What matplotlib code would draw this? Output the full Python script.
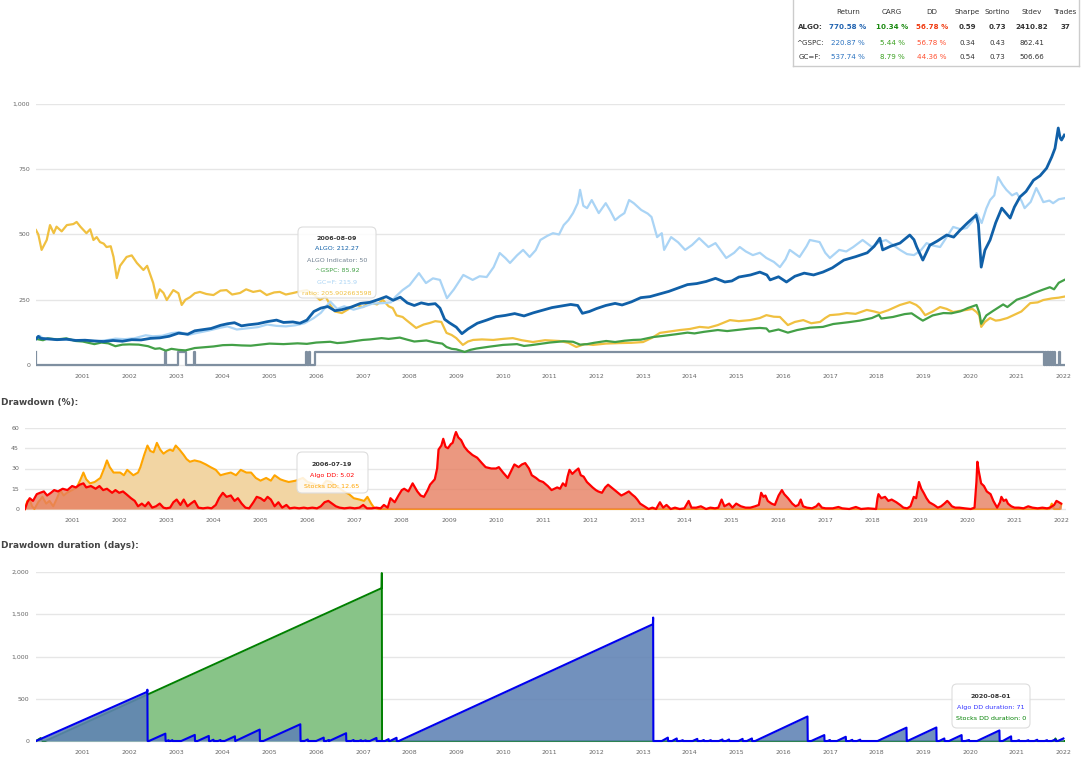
import matplotlib
matplotlib.use('Agg')
import matplotlib.pyplot as plt
from matplotlib.patches import FancyBboxPatch
from matplotlib.transforms import IdentityTransform
from matplotlib.lines import Line2D
from matplotlib.ticker import FuncFormatter

plt.rcParams['font.family'] = ['DejaVu Sans']

# ---------------- data ----------------
YEARS = list(range(2001, 2023))

ALGO = [(2000.00,100),(2000.05,110),(2000.10,102),(2000.25,100),(2000.45,97),(2000.65,99),(2000.85,94),
 (2001.05,95),(2001.25,92),(2001.45,90),(2001.65,94),(2001.85,91),(2002.05,97),(2002.25,96),(2002.45,102),
 (2002.65,104),(2002.85,110),(2003.05,122),(2003.25,118),(2003.40,131),(2003.55,135),(2003.75,140),
 (2003.95,152),(2004.10,158),(2004.25,162),(2004.40,150),(2004.55,154),(2004.75,158),(2004.95,166),
 (2005.15,172),(2005.30,163),(2005.50,165),(2005.65,160),(2005.80,172),(2005.95,205),(2006.10,218),
 (2006.25,224),(2006.40,208),(2006.55,212),(2006.75,222),(2006.95,236),(2007.15,240),(2007.35,252),
 (2007.50,262),(2007.65,248),(2007.80,260),(2007.95,238),(2008.10,228),(2008.25,238),(2008.40,232),
 (2008.55,235),(2008.65,218),(2008.75,175),(2008.85,162),(2009.00,145),(2009.12,120),(2009.25,138),
 (2009.45,160),(2009.65,172),(2009.85,185),(2010.05,190),(2010.25,197),(2010.45,188),(2010.65,200),
 (2010.85,210),(2011.05,220),(2011.25,226),(2011.45,232),(2011.60,228),(2011.70,198),(2011.85,205),
 (2012.00,216),(2012.20,228),(2012.40,236),(2012.55,230),(2012.75,242),(2012.95,258),(2013.15,262),
 (2013.35,272),(2013.55,282),(2013.75,295),(2013.95,308),(2014.15,312),(2014.35,320),(2014.55,332),
 (2014.75,318),(2014.90,322),(2015.05,337),(2015.30,345),(2015.50,356),(2015.65,345),(2015.72,326),
 (2015.90,338),(2016.07,318),(2016.25,340),(2016.45,352),(2016.65,345),(2016.85,356),(2017.05,372),
 (2017.30,402),(2017.55,415),(2017.80,430),(2017.95,455),(2018.07,486),(2018.13,441),(2018.30,455),
 (2018.50,467),(2018.71,498),(2018.80,480),(2018.86,452),(2018.99,402),(2019.14,459),(2019.30,475),
 (2019.50,498),(2019.65,490),(2019.79,517),(2019.95,545),(2020.13,574),(2020.18,540),(2020.24,375),
 (2020.32,440),(2020.43,479),(2020.55,545),(2020.68,601),(2020.78,580),(2020.86,563),(2020.95,605),
 (2021.07,644),(2021.20,665),(2021.36,708),(2021.50,725),(2021.64,754),(2021.75,797),(2021.82,830),
 (2021.89,908),(2021.93,870),(2021.96,862),(2022.02,881)]

GOLD = [(2000.00,100),(2000.08,112),(2000.15,102),(2000.35,100),(2000.55,98),(2000.75,96),(2000.95,95),
 (2001.15,93),(2001.35,92),(2001.55,96),(2001.70,101),(2001.90,99),(2002.10,102),(2002.35,114),(2002.50,110),
 (2002.70,112),(2002.90,122),(2003.08,126),(2003.25,115),(2003.45,123),(2003.70,132),(2003.95,143),
 (2004.10,148),(2004.30,136),(2004.50,140),(2004.75,145),(2004.95,155),(2005.15,150),(2005.35,148),
 (2005.55,152),(2005.75,160),(2005.95,180),(2006.10,200),(2006.30,243),(2006.45,215),(2006.60,225),
 (2006.80,212),(2007.00,222),(2007.20,235),(2007.43,237),(2007.60,240),(2007.70,262),(2007.85,287),
 (2008.00,306),(2008.20,352),(2008.35,314),(2008.50,332),(2008.65,326),(2008.80,256),(2008.95,290),
 (2009.15,345),(2009.35,326),(2009.50,340),(2009.65,337),(2009.80,375),(2009.93,429),(2010.05,410),
 (2010.15,391),(2010.30,420),(2010.43,441),(2010.57,414),(2010.70,440),(2010.80,479),(2010.95,495),
 (2011.07,505),(2011.20,500),(2011.30,536),(2011.40,555),(2011.50,582),(2011.60,620),(2011.65,671),
 (2011.72,610),(2011.80,601),(2011.90,632),(2012.05,582),(2012.20,620),(2012.30,590),(2012.40,555),
 (2012.50,570),(2012.60,582),(2012.70,632),(2012.80,620),(2012.96,594),(2013.10,580),(2013.18,567),
 (2013.30,490),(2013.40,505),(2013.45,441),(2013.60,490),(2013.75,470),(2013.90,441),(2014.05,460),
 (2014.20,486),(2014.40,452),(2014.55,467),(2014.78,410),(2014.95,430),(2015.07,452),(2015.20,435),
 (2015.35,421),(2015.50,430),(2015.64,410),(2015.80,395),(2015.93,375),(2016.05,405),(2016.14,441),
 (2016.35,414),(2016.50,455),(2016.57,479),(2016.78,471),(2016.90,430),(2017.00,410),(2017.20,441),
 (2017.35,435),(2017.50,452),(2017.70,479),(2017.90,452),(2018.05,470),(2018.20,479),(2018.35,460),
 (2018.50,441),(2018.65,425),(2018.80,421),(2018.95,440),(2019.07,467),(2019.20,458),(2019.36,452),
 (2019.50,490),(2019.64,529),(2019.80,520),(2019.93,525),(2020.05,550),(2020.14,582),(2020.25,544),
 (2020.35,600),(2020.43,632),(2020.52,650),(2020.60,720),(2020.70,690),(2020.78,671),(2020.90,650),
 (2021.00,659),(2021.10,630),(2021.17,601),(2021.30,625),(2021.42,678),(2021.50,650),(2021.57,624),
 (2021.70,630),(2021.78,620),(2021.90,635),(2022.02,639)]

GSPC = [(2000.00,100),(2000.15,95),(2000.25,102),(2000.45,98),(2000.65,102),(2000.85,92),(2001.00,90),
 (2001.15,84),(2001.25,80),(2001.40,86),(2001.55,83),(2001.70,72),(2001.85,78),(2002.00,79),(2002.20,78),
 (2002.40,72),(2002.55,62),(2002.65,64),(2002.78,55),(2002.90,62),(2003.05,58),(2003.20,56),(2003.40,65),
 (2003.60,68),(2003.80,71),(2004.00,76),(2004.20,77),(2004.40,75),(2004.60,74),(2004.80,78),(2005.00,82),
 (2005.30,80),(2005.60,83),(2005.80,81),(2006.00,86),(2006.30,89),(2006.45,84),(2006.60,86),(2006.80,91),
 (2007.00,96),(2007.15,98),(2007.40,103),(2007.55,100),(2007.79,105),(2007.95,97),(2008.10,90),
 (2008.36,94),(2008.55,86),(2008.70,82),(2008.79,69),(2008.90,62),(2009.00,60),(2009.18,50),(2009.30,58),
 (2009.43,63),(2009.70,70),(2010.00,77),(2010.30,80),(2010.45,73),(2010.60,76),(2010.80,81),(2011.00,86),
 (2011.30,91),(2011.50,89),(2011.65,78),(2011.80,80),(2011.95,85),(2012.21,92),(2012.40,88),(2012.60,93),
 (2012.79,96),(2012.95,97),(2013.21,107),(2013.45,112),(2013.71,118),(2013.95,124),(2014.10,121),
 (2014.30,127),(2014.60,134),(2014.80,130),(2015.00,134),(2015.30,140),(2015.50,142),(2015.64,140),
 (2015.70,128),(2015.90,136),(2016.10,124),(2016.30,134),(2016.57,143),(2016.85,146),(2017.07,157),
 (2017.40,164),(2017.64,170),(2017.90,180),(2018.05,192),(2018.10,178),(2018.35,184),(2018.60,195),
 (2018.75,198),(2018.90,180),(2018.99,170),(2019.20,190),(2019.43,199),(2019.60,198),(2019.80,206),
 (2019.95,218),(2020.14,230),(2020.20,200),(2020.24,158),(2020.35,190),(2020.50,208),(2020.71,232),
 (2020.80,222),(2021.00,250),(2021.20,262),(2021.36,275),(2021.55,288),(2021.71,298),(2021.80,290),
 (2021.90,315),(2022.02,326)]

RATIO = [(2000.00,517),(2000.05,500),(2000.12,441),(2000.23,479),(2000.30,536),(2000.38,505),(2000.44,530),
 (2000.55,512),(2000.66,536),(2000.80,540),(2000.87,548),(2000.95,530),(2001.08,505),(2001.16,520),
 (2001.23,479),(2001.30,490),(2001.37,471),(2001.45,465),(2001.51,452),(2001.60,455),(2001.66,414),
 (2001.73,333),(2001.80,380),(2001.94,414),(2002.05,420),(2002.16,391),(2002.30,364),(2002.38,380),
 (2002.51,314),(2002.58,256),(2002.65,290),(2002.73,276),(2002.80,249),(2002.94,287),(2003.05,275),
 (2003.12,230),(2003.20,250),(2003.30,260),(2003.40,275),(2003.51,280),(2003.65,272),(2003.80,268),
 (2003.95,285),(2004.08,287),(2004.20,270),(2004.37,276),(2004.50,290),(2004.65,280),(2004.80,285),
 (2004.94,268),(2005.10,278),(2005.22,280),(2005.35,270),(2005.51,276),(2005.65,282),(2005.80,287),
 (2005.95,270),(2006.08,249),(2006.20,262),(2006.30,230),(2006.40,205),(2006.55,199),(2006.70,215),
 (2006.87,230),(2007.00,222),(2007.15,241),(2007.30,232),(2007.43,249),(2007.55,225),(2007.64,218),
 (2007.72,190),(2007.85,184),(2007.93,172),(2008.05,155),(2008.14,142),(2008.30,155),(2008.43,161),
 (2008.55,168),(2008.68,165),(2008.79,123),(2008.90,115),(2009.00,103),(2009.14,77),(2009.25,90),
 (2009.36,96),(2009.55,98),(2009.79,96),(2010.00,100),(2010.21,103),(2010.40,95),(2010.64,88),
 (2010.90,95),(2011.21,92),(2011.40,85),(2011.57,69),(2011.75,80),(2011.93,77),(2012.20,82),(2012.50,84),
 (2012.75,85),(2013.00,88),(2013.20,105),(2013.36,123),(2013.55,128),(2013.79,134),(2014.00,138),
 (2014.21,146),(2014.40,143),(2014.60,153),(2014.86,172),(2015.05,168),(2015.29,172),(2015.50,180),
 (2015.64,191),(2015.80,185),(2015.93,184),(2016.10,153),(2016.25,165),(2016.43,172),(2016.60,160),
 (2016.79,165),(2016.90,180),(2017.00,191),(2017.20,194),(2017.36,199),(2017.55,196),(2017.79,211),
 (2017.95,205),(2018.07,199),(2018.25,210),(2018.40,222),(2018.50,230),(2018.71,241),(2018.85,230),
 (2018.93,218),(2019.04,191),(2019.20,205),(2019.36,222),(2019.50,215),(2019.64,203),(2019.80,208),
 (2019.93,211),(2020.05,215),(2020.14,203),(2020.20,190),(2020.24,146),(2020.32,165),(2020.43,180),
 (2020.55,170),(2020.64,172),(2020.80,180),(2020.93,191),(2021.10,205),(2021.29,237),(2021.45,240),
 (2021.57,249),(2021.75,255),(2021.90,258),(2022.02,262)]

INDICATOR = [(2000.00,50),(2000.01,0),(2002.76,50),(2002.79,0),(2003.05,50),(2003.21,0),(2003.38,50),
 (2003.40,0),(2005.78,50),(2005.80,0),(2005.84,50),(2005.86,0),(2005.97,50),(2021.58,0),(2021.60,50),
 (2021.62,0),(2021.64,50),(2021.66,0),(2021.68,50),(2021.70,0),(2021.72,50),(2021.74,0),(2021.76,50),
 (2021.78,0),(2021.80,50),(2021.82,0),(2021.91,50),(2021.92,0),(2022.02,0)]

STOCKS_DD = [(2000.00,0),(2000.05,6),(2000.10,7),(2000.15,2),(2000.20,0),(2000.28,5),(2000.37,9),(2000.45,4),
 (2000.52,6),(2000.60,2),(2000.68,8),(2000.75,14),(2000.82,10),(2000.89,12),(2001.00,14),(2001.10,16),
 (2001.18,22),(2001.24,27),(2001.30,22),(2001.38,19),(2001.48,20),(2001.60,23),(2001.68,30),(2001.74,36),
 (2001.80,31),(2001.88,27),(2002.02,27),(2002.10,25),(2002.17,29),(2002.30,25),(2002.40,27),(2002.45,31),
 (2002.53,40),(2002.60,47),(2002.66,43),(2002.73,42),(2002.80,49),(2002.87,44),(2002.94,41),(2003.02,43),
 (2003.08,44),(2003.14,43),(2003.20,47),(2003.28,44),(2003.37,40),(2003.43,37),(2003.50,35),(2003.60,36),
 (2003.72,35),(2003.84,33),(2003.94,31),(2004.05,29),(2004.15,25),(2004.25,26),(2004.37,27),(2004.48,25),
 (2004.58,29),(2004.70,27),(2004.80,27),(2004.90,23),(2005.00,21),(2005.12,23),(2005.22,21),(2005.30,25),
 (2005.42,22),(2005.50,21),(2005.60,20),(2005.75,21),(2005.90,23),(2006.00,20),(2006.10,19),(2006.18,18),
 (2006.30,17),(2006.40,21),(2006.50,20),(2006.60,17),(2006.70,15),(2006.77,13),(2006.88,11),(2006.98,8),
 (2007.10,7),(2007.20,6),(2007.27,9),(2007.35,4),(2007.41,1),(2007.50,0),(2021.75,0),(2021.80,4),
 (2021.85,0),(2021.97,0),(2022.00,3)]

ALGO_DD = [(2000.00,0),(2000.05,5),(2000.10,8),(2000.17,6),(2000.25,11),(2000.32,12),(2000.40,13),(2000.47,10),
 (2000.55,12),(2000.62,14),(2000.70,13),(2000.80,15),(2000.90,14),(2001.00,17),(2001.08,16),(2001.16,18),
 (2001.24,19),(2001.30,16),(2001.40,17),(2001.50,15),(2001.58,17),(2001.66,14),(2001.74,15),(2001.85,12),
 (2001.92,14),(2002.00,12),(2002.08,13),(2002.15,11),(2002.25,8),(2002.33,6),(2002.40,2),(2002.48,4),
 (2002.55,2),(2002.62,5),(2002.70,1),(2002.78,2),(2002.86,4),(2002.94,1),(2003.00,0.5),(2003.08,1),
 (2003.15,5),(2003.22,7),(2003.30,3),(2003.37,7),(2003.45,2),(2003.52,4),(2003.60,6),(2003.68,1),
 (2003.78,0.5),(2003.88,1),(2003.96,0.5),(2004.05,3),(2004.12,8),(2004.20,12),(2004.28,9),(2004.37,10),
 (2004.45,6),(2004.52,8),(2004.60,4),(2004.68,1),(2004.76,0.5),(2004.85,5),(2004.92,9),(2005.00,8),
 (2005.08,6),(2005.15,9),(2005.22,7),(2005.30,2),(2005.38,5),(2005.46,1),(2005.55,3),(2005.62,0.5),
 (2005.72,1),(2005.82,0.5),(2005.92,1),(2006.00,0.5),(2006.10,1),(2006.20,0.5),(2006.28,2),(2006.36,5),
 (2006.44,6),(2006.52,4),(2006.60,2),(2006.68,1),(2006.78,0.5),(2006.90,1),(2007.00,0.5),(2007.10,1),
 (2007.18,3),(2007.26,0.5),(2007.36,0.5),(2007.46,1),(2007.55,0.5),(2007.62,3),(2007.70,1),(2007.76,8),
 (2007.85,5),(2007.93,10),(2008.00,14),(2008.05,15),(2008.14,13),(2008.23,19),(2008.33,13),(2008.40,10),
 (2008.47,9),(2008.55,14),(2008.60,18),(2008.70,22),(2008.75,30),(2008.78,44),(2008.84,47),(2008.88,52),
 (2008.93,46),(2008.98,45),(2009.04,48),(2009.08,49),(2009.12,54),(2009.15,57),(2009.20,53),(2009.26,51),
 (2009.33,46),(2009.40,43),(2009.50,40),(2009.60,38),(2009.70,34),(2009.78,31),(2009.90,30),(2010.00,30),
 (2010.06,31),(2010.15,27),(2010.25,23),(2010.32,28),(2010.39,33),(2010.48,31),(2010.55,33),(2010.62,34),
 (2010.70,30),(2010.76,25),(2010.85,23),(2010.92,21),(2011.00,20),(2011.10,17),(2011.18,14),(2011.30,16),
 (2011.36,15),(2011.42,19),(2011.48,17),(2011.52,24),(2011.56,29),(2011.62,26),(2011.68,28),(2011.75,30),
 (2011.80,25),(2011.86,24),(2011.93,20),(2012.05,16),(2012.12,14),(2012.17,13),(2012.25,12),(2012.32,16),
 (2012.38,18),(2012.45,16),(2012.52,14),(2012.59,12),(2012.66,10),(2012.72,11),(2012.82,13),(2012.88,11),
 (2012.95,9),(2013.00,7),(2013.06,4),(2013.15,2),(2013.24,0),(2013.32,1),(2013.40,0),(2013.48,5),
 (2013.55,1),(2013.62,3),(2013.71,0),(2013.80,1),(2013.90,0),(2014.00,0.5),(2014.09,6),(2014.15,1),
 (2014.25,1),(2014.35,2),(2014.46,0),(2014.55,1),(2014.65,0.5),(2014.72,1),(2014.79,7),(2014.85,2),
 (2014.95,4),(2015.02,1),(2015.10,4),(2015.20,2),(2015.30,1),(2015.40,1),(2015.50,2),(2015.58,3),
 (2015.63,12),(2015.68,9),(2015.72,10),(2015.77,6),(2015.85,4),(2015.92,3),(2016.00,10),(2016.07,14),
 (2016.12,11),(2016.20,8),(2016.29,4),(2016.36,2),(2016.42,3),(2016.47,7),(2016.52,2),(2016.60,1),
 (2016.71,0.5),(2016.80,2),(2016.85,4),(2016.92,1),(2017.00,0.5),(2017.15,0.5),(2017.27,1.5),(2017.35,0.5),
 (2017.50,0),(2017.64,1.5),(2017.75,0),(2017.90,0.5),(2018.07,0),(2018.10,8),(2018.12,11),(2018.18,8),
 (2018.26,9),(2018.33,6),(2018.40,7),(2018.50,5),(2018.58,3),(2018.65,1),(2018.73,0.5),(2018.80,2),
 (2018.87,9),(2018.92,8),(2018.95,14),(2018.98,20),(2019.03,15),(2019.08,12),(2019.14,8),(2019.20,5),
 (2019.30,3),(2019.38,1),(2019.45,2),(2019.52,4),(2019.58,6),(2019.61,5),(2019.68,2),(2019.75,1),
 (2019.84,1),(2019.95,0.5),(2020.08,0),(2020.16,1),(2020.20,20),(2020.22,35),(2020.25,28),(2020.30,19),
 (2020.36,17),(2020.42,13),(2020.50,11),(2020.56,6),(2020.64,1),(2020.70,5),(2020.73,9),(2020.78,6),
 (2020.83,7),(2020.87,4),(2020.94,2),(2021.01,1),(2021.10,1),(2021.20,0.5),(2021.30,2),(2021.39,1),
 (2021.50,0.5),(2021.60,1),(2021.70,0.5),(2021.76,1),(2021.85,3),(2021.90,6),(2021.95,5),(2022.00,4)]

STOCKS_DUR = [(2000.00,0),(2000.10,35),(2000.14,0),(2000.20,0),(2007.40,1809),(2007.405,1988),(2007.41,0),
 (2021.80,0),(2021.83,30),(2021.86,0),(2022.02,0)]

ALGO_DUR = [(2000.00,0),(2002.38,582),(2002.385,607),(2002.39,0),(2002.42,0),(2002.77,87),(2002.775,0),
 (2002.80,0),(2002.84,10),(2002.845,0),(2002.88,0),(2002.92,10),(2002.925,0),(2003.11,0),(2003.40,72),
 (2003.405,0),(2003.46,0),(2003.70,60),(2003.705,0),(2003.74,0),(2003.80,15),(2003.805,0),(2003.90,0),
 (2003.95,12),(2003.955,0),(2004.04,0),(2004.26,56),(2004.265,0),(2004.27,0),(2004.79,135),(2004.795,0),
 (2004.87,0),(2005.66,198),(2005.665,0),(2005.75,0),(2005.82,18),(2005.825,0),(2006.00,0),(2006.16,40),
 (2006.165,0),(2006.22,0),(2006.27,12),(2006.275,0),(2006.28,0),(2006.64,92),(2006.645,0),(2006.75,0),
 (2006.80,12),(2006.805,0),(2006.92,0),(2006.96,10),(2006.965,0),(2007.02,0),(2007.06,8),(2007.065,0),
 (2007.15,0),(2007.29,36),(2007.295,0),(2007.47,0),(2007.55,22),(2007.555,0),(2007.58,0),(2007.72,38),
 (2007.725,0),(2007.77,0),(2013.21,1382),(2013.215,1461),(2013.22,0),(2013.40,0),(2013.53,40),(2013.535,0),
 (2013.62,0),(2013.72,30),(2013.725,0),(2013.80,0),(2013.85,10),(2013.855,0),(2014.06,0),(2014.16,25),
 (2014.165,0),(2014.25,0),(2014.30,12),(2014.305,0),(2014.40,0),(2014.45,10),(2014.455,0),(2014.62,0),
 (2014.70,18),(2014.705,0),(2014.78,0),(2014.84,18),(2014.845,0),(2015.04,0),(2015.13,25),(2015.135,0),
 (2015.22,0),(2015.33,30),(2015.335,0),(2015.40,0),(2016.52,290),(2016.525,0),(2016.60,0),(2016.88,70),
 (2016.885,0),(2016.95,0),(2017.00,12),(2017.005,0),(2017.15,0),(2017.34,50),(2017.345,0),(2017.42,0),
 (2017.48,14),(2017.485,0),(2017.58,0),(2017.65,16),(2017.655,0),(2018.02,0),(2018.64,158),(2018.645,0),
 (2018.66,0),(2019.28,160),(2019.285,0),(2019.34,0),(2019.45,30),(2019.455,0),(2019.55,0),(2019.82,70),
 (2019.825,0),(2019.90,0),(2019.98,12),(2019.985,0),(2020.15,0),(2020.63,125),(2020.635,0),(2020.70,0),
 (2020.88,55),(2020.885,0),(2021.00,0),(2021.05,10),(2021.055,0),(2021.20,0),(2021.25,10),(2021.255,0),
 (2021.38,0),(2021.44,15),(2021.445,0),(2021.60,0),(2021.65,10),(2021.655,0),(2021.75,0),(2021.83,18),
 (2021.835,0),(2021.88,0),(2022.00,30)]

# summary table
TABLE_HEADERS = ['Return', 'CARG', 'DD', 'Sharpe', 'Sortino', 'Stdev', 'Trades']
TABLE_ROWS = ['ALGO:', '^GSPC:', 'GC=F:']
RET_COL = ['770.58 %', '220.87 %', '537.74 %']
CARG_COL = ['10.34 %', '5.44 %', '8.79 %']
DD_COL = ['56.78 %', '56.78 %', '44.36 %']
SHARPE_COL = ['0.59', '0.34', '0.54']
SORTINO_COL = ['0.73', '0.43', '0.73']
STDEV_COL = ['2410.82', '862.41', '506.66']
TRADES_COL = ['37', '', '']

# ---------------- figure ----------------
W, H = 1091, 769
fig = plt.figure(figsize=(W / 100, H / 100), dpi=100)
fig.patch.set_facecolor('white')


def rect(l, t, r, b):
    return [l / W, 1 - b / H, (r - l) / W, (b - t) / H]


def unzip(pts):
    return [p[0] for p in pts], [p[1] for p in pts]


def style(ax, yticks, fmt, xpad, ypad):
    for s in ax.spines.values():
        s.set_visible(False)
    ax.set_xticks(YEARS)
    ax.set_xticklabels([str(y) for y in YEARS])
    ax.set_yticks(yticks)
    ax.yaxis.set_major_formatter(FuncFormatter(fmt))
    ax.tick_params(axis='both', length=0, labelsize=4.5, labelcolor='#666666')
    ax.tick_params(axis='x', pad=xpad)
    ax.tick_params(axis='y', pad=ypad)
    ax.yaxis.grid(True, color='#e6e6e6', lw=1.0)
    ax.xaxis.grid(False)
    ax.set_axisbelow(True)
    ax.patch.set_alpha(0)


comma = lambda v, p: f'{int(v):,}'

# ---- top chart ----
ax1 = fig.add_axes(rect(36, 104, 1065, 367))
ax1.set_xlim(2000, 2000 + (1065 - 36) / 46.7)
ax1.set_ylim(-(367 - 365) / 0.261, 1000)
style(ax1, [0, 250, 500, 750, 1000], comma, 4.7, 4.3)

t, v = unzip(INDICATOR)
ax1.plot(t, v, drawstyle='steps-post', color='#7f8fa0', lw=1.6, zorder=2)
t, v = unzip(RATIO)
ax1.plot(t, v, color='#f0c040', lw=1.6, zorder=3)
t, v = unzip(GOLD)
ax1.plot(t, v, color='#aad4f5', lw=1.6, zorder=3)
t, v = unzip(GSPC)
ax1.plot(t, v, color='#43a047', lw=1.6, zorder=4)
t, v = unzip(ALGO)
ax1.plot(t, v, color='#1060a8', lw=2.0, zorder=5)

# ---- drawdown chart ----
ax2 = fig.add_axes(rect(25, 428, 1066, 511))
ax2.set_xlim(2000, 2000 + (1066 - 25) / 47.1)
ax2.set_ylim(-(511 - 509) / 1.35, 60)
style(ax2, [0, 15, 30, 45, 60], lambda v, p: f'{int(v)}', 5.0, 4.3)

ts, vs = unzip(STOCKS_DD)
ta, va = unzip(ALGO_DD)
ax2.fill_between(ts, vs, 0, color='#f2d5a3', lw=0, zorder=2)
ax2.plot(ts, vs, color='#ffa500', lw=1.5, zorder=3)
ax2.fill_between(ta, va, 0, color='#e67e60', alpha=0.8, lw=0, zorder=4)
ax2.plot(ta, va, color='#ff0000', lw=1.6, zorder=5)

# ---- duration chart ----
ax3 = fig.add_axes(rect(36, 572, 1065, 743))
ax3.set_xlim(2000, 2000 + (1065 - 36) / 46.7)
ax3.set_ylim(-(743 - 741) / 0.0845, 2000)
style(ax3, [0, 500, 1000, 1500, 2000], comma, 4.7, 5.0)

ts, vs = unzip(STOCKS_DUR)
ta, va = unzip(ALGO_DUR)
ax3.fill_between(ts, vs, 0, color='#88c488', lw=0, zorder=2)
ax3.plot(ts, vs, color='#008000', lw=1.4, zorder=3)
ax3.fill_between(ta, va, 0, color='#5f82b4', alpha=0.88, lw=0, zorder=4)
ax3.plot(ta, va, color='#0000ee', lw=1.5, zorder=5)

# ---- section titles ----
fig.text(1 / W, 1 - 402 / H, 'Drawdown (%):', fontsize=6.4, fontweight='bold',
         color='#444444', va='center', ha='left')
fig.text(1 / W, 1 - 546 / H, 'Drawdown duration (days):', fontsize=6.4, fontweight='bold',
         color='#444444', va='center', ha='left')

# ---- tooltips ----
def tooltip(l, t, r, b, cx, lines):
    p = FancyBboxPatch((l, H - b), r - l, b - t,
                       boxstyle='round,pad=0,rounding_size=5',
                       transform=IdentityTransform(), fc=(1, 1, 1, 0.85),
                       ec='#dddddd', lw=0.8, zorder=20)
    fig.add_artist(p)
    for y, s, c, bold in lines:
        fig.text(cx / W, 1 - y / H, s, color=c, fontsize=4.6,
                 fontweight='bold' if bold else 'normal',
                 ha='center', va='center', zorder=21)


tooltip(298, 227, 376, 298, 337, [
    (239, '2006-08-09', '#333333', True),
    (249, 'ALGO: 212.27', '#1060a8', False),
    (260, 'ALGO Indicator: 50', '#708090', False),
    (271, '^GSPC: 85.92', '#43a047', False),
    (282, 'GC=F: 215.9', '#aad4f5', False),
    (293, 'ratio: 205.902663598', '#f0c040', False),
])
tooltip(297, 452, 368, 493, 332, [
    (464, '2006-07-19', '#333333', True),
    (475, 'Algo DD: 5.02', '#ff0000', False),
    (486, 'Stocks DD: 12.65', '#ffa500', False),
])
tooltip(952, 684, 1030, 728, 991, [
    (696, '2020-08-01', '#333333', True),
    (707, 'Algo DD duration: 71', '#3333ff', False),
    (718, 'Stocks DD duration: 0', '#008000', False),
])

# ---- summary table ----
for xs, ys in [([793, 793], [0, 66]), ([793, 1079], [66, 66]), ([1079, 1079], [0, 66])]:
    fig.add_artist(Line2D(xs, [H - y for y in ys], transform=IdentityTransform(),
                          color='#cccccc', lw=1.0))

col_x = [848, 892, 932, 967, 997, 1032, 1066]
row_y = [27, 43, 57]
for x, h in zip(col_x, TABLE_HEADERS):
    fig.text(x / W, 1 - 12 / H, h, fontsize=5.1, color='#333333', ha='center', va='center')

cols = [RET_COL, CARG_COL, DD_COL, SHARPE_COL, SORTINO_COL, STDEV_COL, TRADES_COL]
col_colors = [('#1f62b0', '#2a72c0'), ('#1a8a10', '#3aa020'), ('#f03a10', '#ff5030'),
              ('#333333', '#333333'), ('#333333', '#333333'), ('#333333', '#333333'),
              ('#333333', '#333333')]
for i, (name, y) in enumerate(zip(TABLE_ROWS, row_y)):
    bold = (i == 0)
    fig.text(810 / W, 1 - y / H, name, fontsize=5.1, color='#333333', ha='center', va='center',
             fontweight='bold' if bold else 'normal')
    for x, col, cc in zip(col_x, cols, col_colors):
        fig.text(x / W, 1 - y / H, col[i], fontsize=5.1, color=cc[0] if bold else cc[1],
                 ha='center', va='center', fontweight='bold' if bold else 'normal')

fig.savefig('out.png', dpi=100)
